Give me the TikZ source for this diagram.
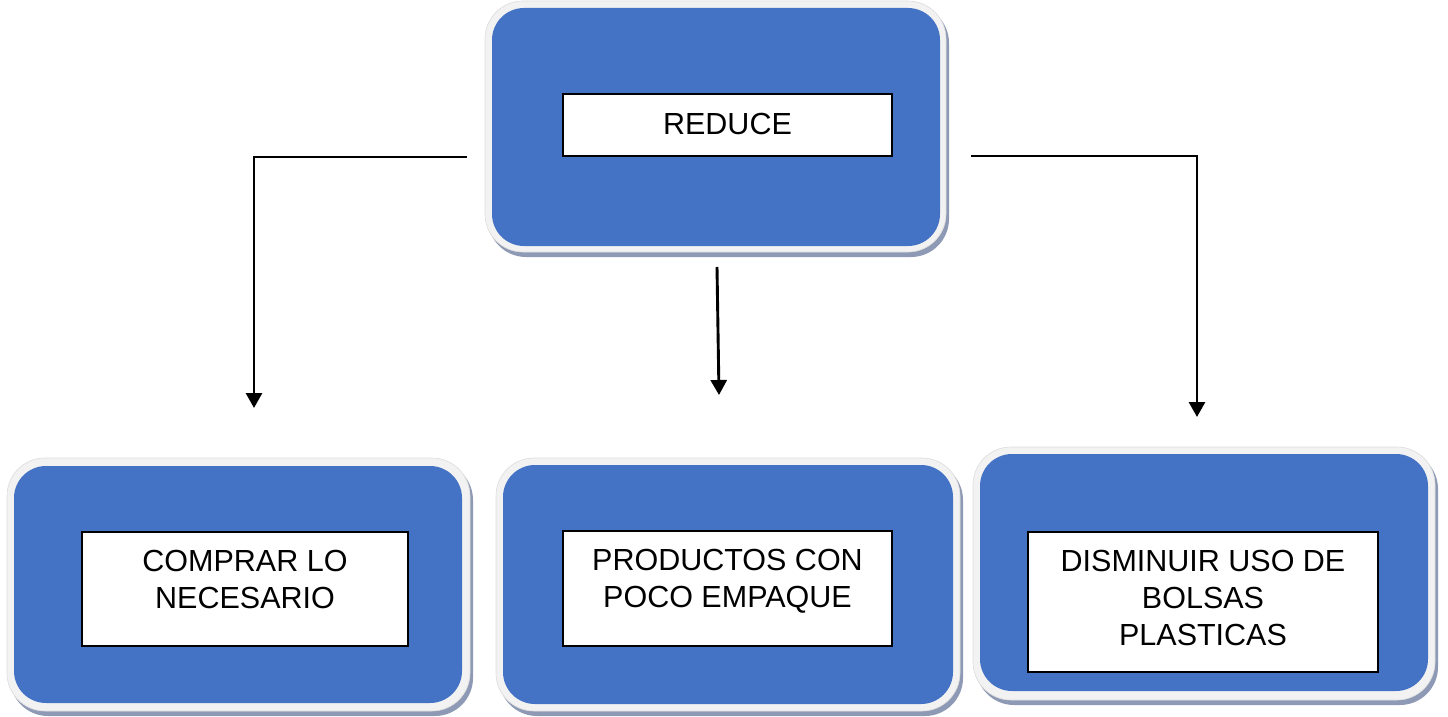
\documentclass[tikz,border=0pt]{standalone}
\usepackage{fontspec}
\setmainfont{Liberation Sans}
\usetikzlibrary{arrows.meta,fit}
\definecolor{boxblue}{HTML}{4472C4}
\definecolor{rimgray}{HTML}{F2F2F2}
\definecolor{rimedge}{HTML}{DCDCDC}
\definecolor{shade}{HTML}{8E9AB5}
\begin{document}
\begin{tikzpicture}[x=1pt,y=-1pt,
  shadowbox/.style={rectangle, rounded corners=38pt, fill=shade, inner sep=0pt},
  rimbox/.style={rectangle, rounded corners=38pt, fill=rimgray, draw=rimedge, line width=0.6pt, inner sep=0pt},
  bluebox/.style={rectangle, rounded corners=32pt, fill=boxblue, inner sep=0pt},
  labelbox/.style={rectangle, fill=white, draw=black, line width=1.8pt, inner sep=0pt},
  labeltext/.style={anchor=north, align=center, inner sep=0pt, font=\fontsize{30.5}{37}\selectfont},
  link/.style={line width=2.9pt, -{Triangle[length=15pt,width=16pt]}}]
\useasboundingbox (0,0) rectangle (1448,717);

% top card: REDUCE
\node[shadowbox, fit={(488,5)(949,257)}] (tshadow) {};
\node[rimbox, fit={(485,1)(946,252)}] (trim) {};
\node[bluebox, fit={(492,8)(940,246)}] (tcard) {};
\node[labelbox, fit={(563,94)(892,156)}] (tbox) {};
\node[labeltext] (ttext) at (727.5,113) {REDUCE};

% lower left card
\node[shadowbox, fit={(10,462)(473,716)}] (lshadow) {};
\node[rimbox, fit={(7,458)(470,711)}] (lrim) {};
\node[bluebox, fit={(14,466)(462,703)}] (lcard) {};
\node[labelbox, fit={(82,532)(408,646)}] (lbox) {};
\node[labeltext] (ltext) at (245,550) {COMPRAR LO\\NECESARIO};

% lower middle card
\node[shadowbox, fit={(499,462)(963,716)}] (mshadow) {};
\node[rimbox, fit={(496,458)(960,711)}] (mrim) {};
\node[bluebox, fit={(503,465)(953,704)}] (mcard) {};
\node[labelbox, fit={(563,531)(892,646)}] (mbox) {};
\node[labeltext] (mtext) at (727.5,549) {PRODUCTOS CON\\POCO EMPAQUE};

% lower right card
\node[shadowbox, fit={(976,451)(1438,705)}] (rshadow) {};
\node[rimbox, fit={(973,447)(1435,700)}] (rrim) {};
\node[bluebox, fit={(980,454)(1428,691)}] (rcard) {};
\node[labelbox, fit={(1028,532)(1378,672)}] (rbox) {};
\node[labeltext] (rtext) at (1203,550) {DISMINUIR USO DE\\BOLSAS\\PLASTICAS};

% connector ends
\coordinate (lstart) at (467,157);
\coordinate (lend) at (254,408);
\coordinate (mstart) at (717,267);
\coordinate (mend) at (719,395);
\coordinate (rstart) at (971,156);
\coordinate (rend) at (1197,417);

\draw[link] (lstart) -| (lend);
\draw[link] (mstart) -- (mend);
\draw[link] (rstart) -| (rend);
\end{tikzpicture}
\end{document}
